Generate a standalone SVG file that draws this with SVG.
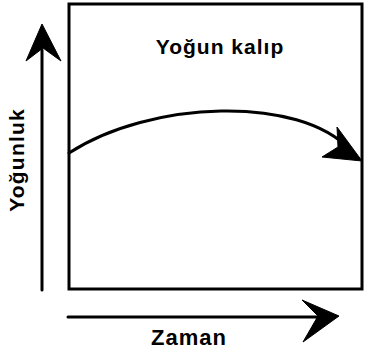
<svg xmlns="http://www.w3.org/2000/svg" width="366" height="353" viewBox="0 0 366 353">
<style>
.ln{fill:none;stroke:#000;stroke-width:3;stroke-linecap:round}
.hd{fill:#000;stroke:#000;stroke-width:1;stroke-linejoin:round}
.t{font-family:"Liberation Sans",Arial,sans-serif;font-weight:bold;fill:#000}
</style>
<rect width="366" height="353" fill="#fff"/>
<g id="frame">
<rect x="69" y="4" width="293" height="285" class="ln"/>
</g>
<g id="label-pattern">
<text class="t" x="220" y="54" font-size="21" text-anchor="middle" letter-spacing="1">Yoğun kalıp</text>
</g>
<g id="label-y">
<text class="t" transform="translate(24,160) rotate(-90)" font-size="21" text-anchor="middle" letter-spacing="1.2">Yoğunluk</text>
</g>
<g id="label-x">
<text class="t" x="189" y="345" font-size="22" text-anchor="middle" letter-spacing="1">Zaman</text>
</g>
<g id="connectors">
<path class="ln" d="M42,290 V50"/>
<polygon class="hd" points="42,24 61,61 43,48 26,61"/>
<path class="ln" d="M68,317 H322"/>
<polygon class="hd" points="339,316 302,300 318,316 303,342"/>
<path class="ln" d="M69,153 C150,100 300,95 350,150"/>
<polygon class="hd" points="362,161 337,127 338,147 322,157"/>
</g>
</svg>
